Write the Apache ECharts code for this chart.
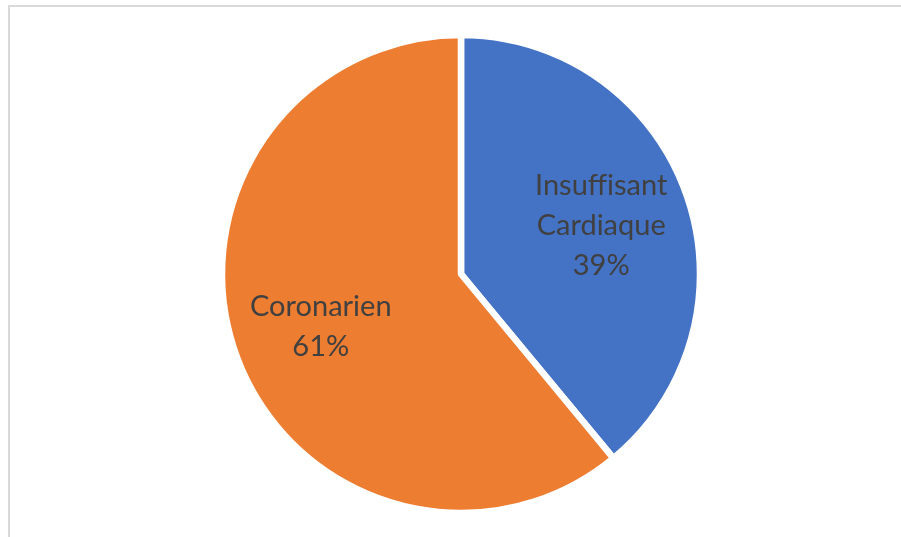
<!DOCTYPE html>
<html><head><meta charset="utf-8">
<script src="https://cdn.jsdelivr.net/npm/echarts@6/dist/echarts.min.js"></script>
<style>
html,body{margin:0;padding:0;background:#fff;}
#frame{position:absolute;left:8px;top:5px;width:900px;height:540px;border-left:2px solid #d9d9d9;border-top:2px solid #d9d9d9;}
#c{position:absolute;left:0;top:0;width:901px;height:537px;}
</style></head>
<body>
<div id="frame"></div>
<div id="c"></div>
<script>
const categories = ['Insuffisant Cardiaque', 'Coronarien'];
const values = [39, 61];
const colors = ['#4472c4', '#ed7d31'];

const chart = echarts.init(document.getElementById('c'), null, {renderer:'canvas'});
const data = categories.map((n,i)=>({name:n, value:values[i], itemStyle:{color:colors[i]}}));
chart.setOption({
  animation:false,
  series:[
    {
      type:'pie', center:[461,274], radius:239, startAngle:90, clockwise:true,
      silent:true,
      itemStyle:{borderColor:'#fff', borderWidth:6.5},
      label:{show:false}, labelLine:{show:false},
      data:data
    },
    {
      type:'pie', center:[461,276], radius:292, startAngle:90, clockwise:true,
      silent:true,
      itemStyle:{color:'transparent', borderWidth:0},
      label:{show:true, position:'inside', color:'#404040', fontFamily:'Lato', fontSize:29, lineHeight:40,
        formatter:p=>p.name.replace(' ','\n').replace('ffi','ff\u200Ci')+'\n'+Math.round(p.percent)+'%'},
      labelLine:{show:false},
      data:categories.map((n,i)=>({name:n, value:values[i]}))
    }
  ]
});
</script>
</body></html>
